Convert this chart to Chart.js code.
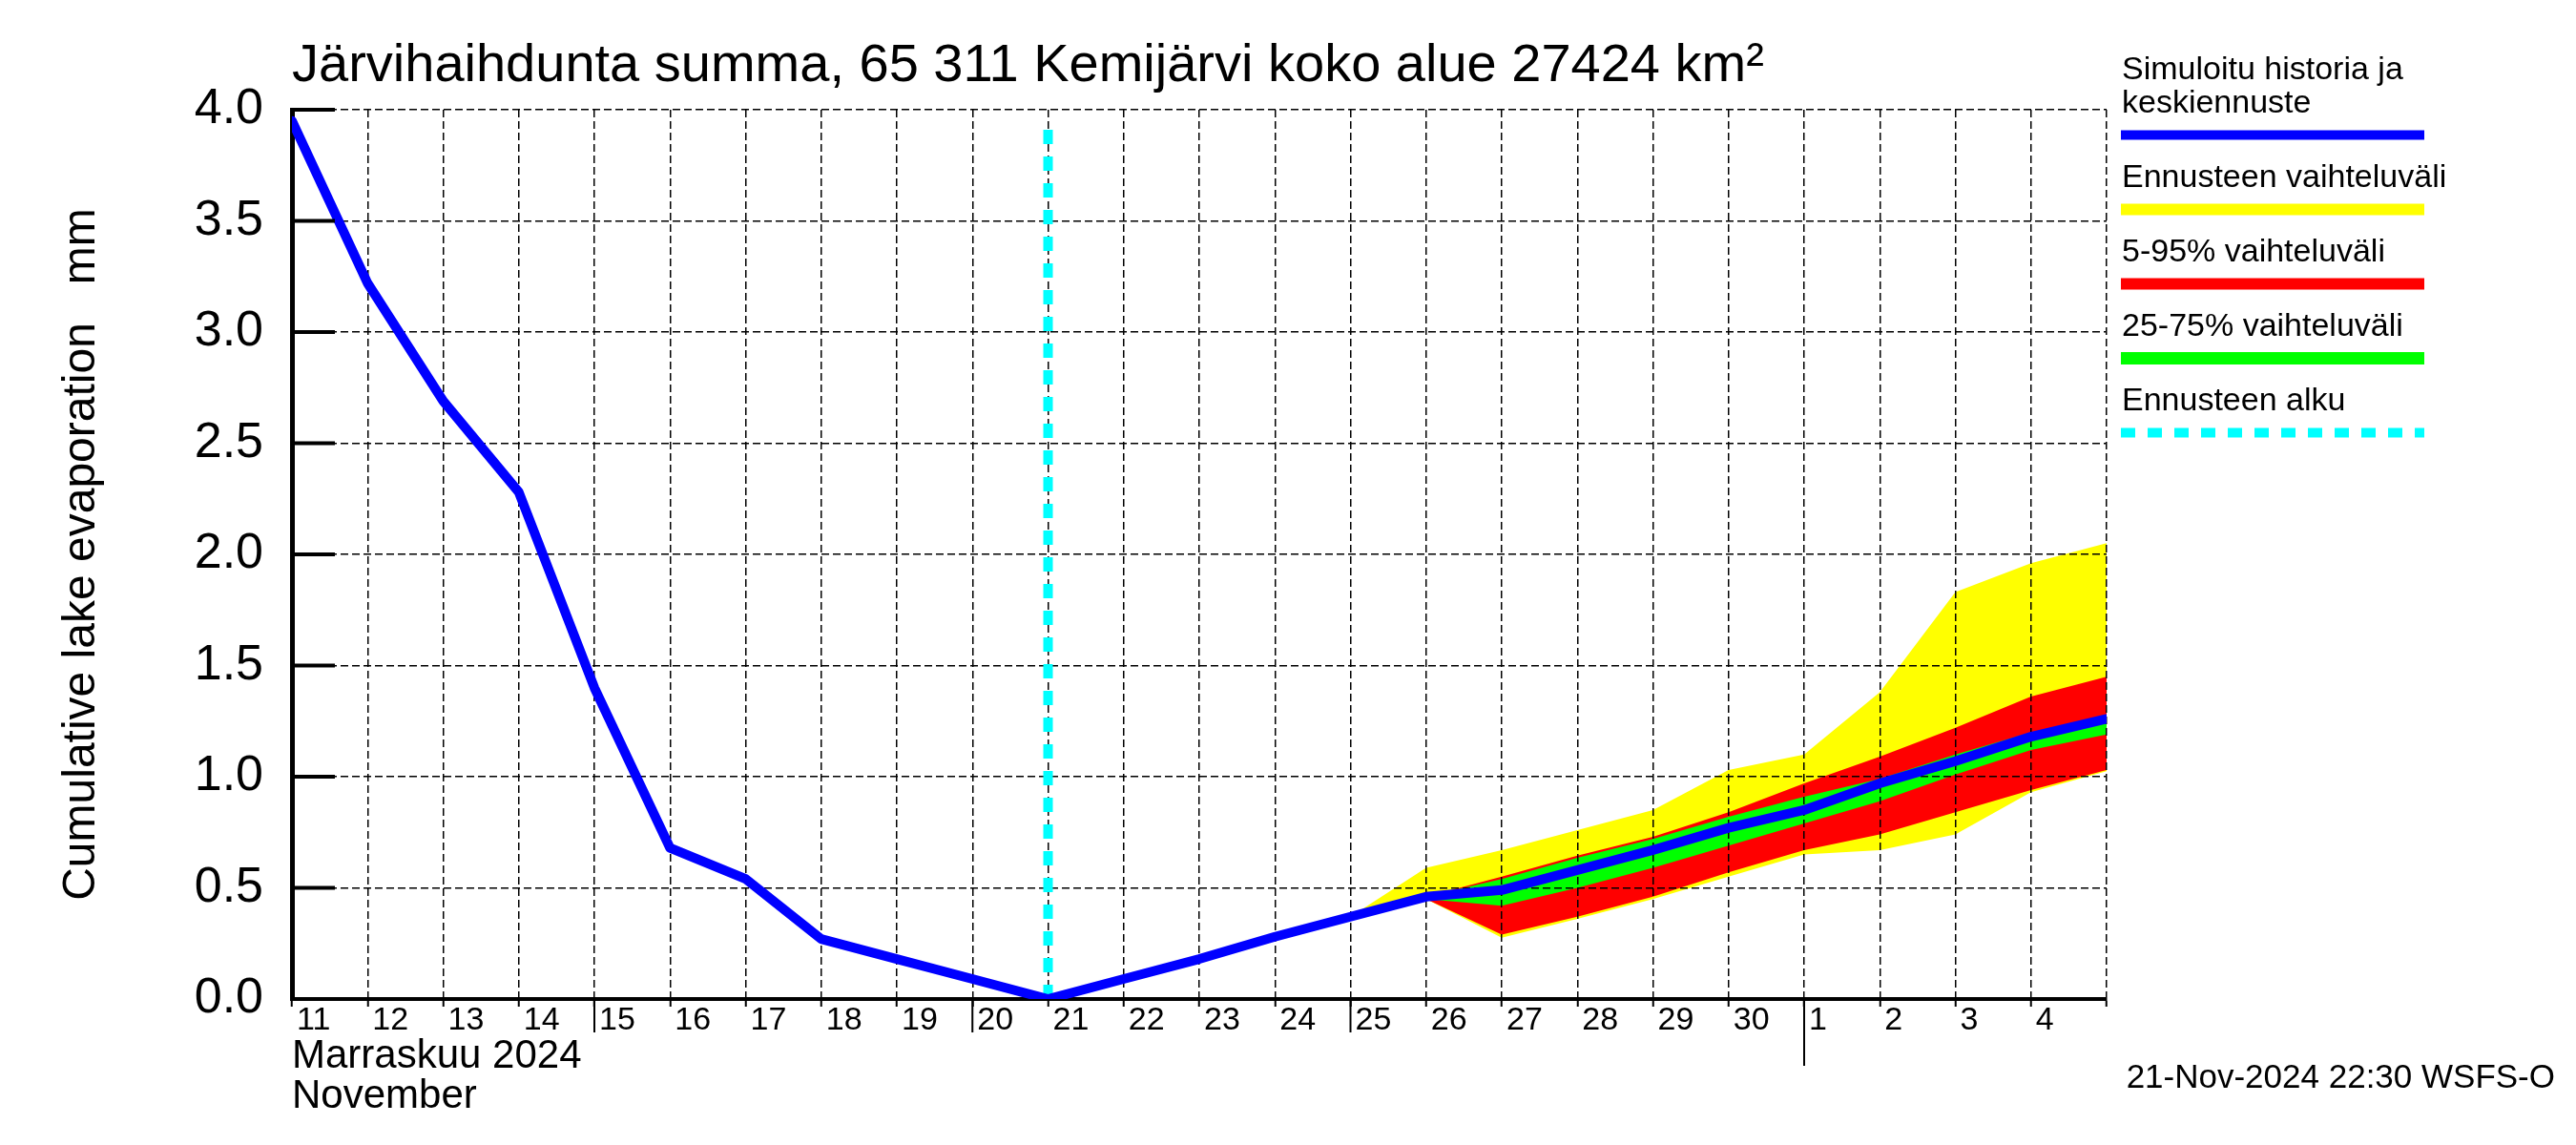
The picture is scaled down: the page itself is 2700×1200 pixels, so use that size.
<!DOCTYPE html>
<html>
<head>
<meta charset="utf-8">
<script src="https://cdn.jsdelivr.net/npm/chart.js@4/dist/chart.umd.min.js"></script>
<style>
html, body { margin: 0; padding: 0; background: #ffffff; }
canvas { display: block; }
</style>
</head>
<body>
<canvas id="c" width="2700" height="1200"></canvas>
<script>
// ---- texts ----
const titleText = 'Järvihaihdunta summa, 65 311 Kemijärvi koko alue 27424 km²';
const yAxisTitle = 'Cumulative lake evaporation   mm';
const monthTitle = ['Marraskuu 2024', 'November'];
const footerText = '21-Nov-2024 22:30 WSFS-O';

// ---- x categories: days from 11 Nov 2024 (00:00) to 5 Dec 2024 ----
const dayLabels = ['11','12','13','14','15','16','17','18','19','20','21','22','23','24','25','26','27','28','29','30','1','2','3','4',''];

// ---- simulated history + median forecast (mm) ----
const simulated = [3.95, 3.22, 2.69, 2.28, 1.40, 0.68, 0.54, 0.27, 0.18, 0.09, 0.00, 0.09, 0.18, 0.28, 0.37, 0.46, 0.49, 0.58, 0.67, 0.77, 0.85, 0.97, 1.07, 1.18, 1.26];

// ---- forecast bands, starting at day index bandStartDay (25 Nov) ----
const bandStartDay = 14;
const yellowHigh = [0.37, 0.59, 0.67, 0.76, 0.85, 1.03, 1.10, 1.38, 1.83, 1.96, 2.05];
const redHigh    = [0.37, 0.46, 0.55, 0.645, 0.73, 0.84, 0.97, 1.09, 1.22, 1.36, 1.45];
const greenHigh  = [0.37, 0.46, 0.54, 0.635, 0.72, 0.82, 0.91, 0.99, 1.10, 1.20, 1.27];
const greenLow   = [0.37, 0.45, 0.42, 0.50, 0.59, 0.69, 0.79, 0.89, 1.01, 1.12, 1.19];
const redLow     = [0.37, 0.45, 0.29, 0.37, 0.46, 0.57, 0.67, 0.74, 0.84, 0.94, 1.03];
const yellowLow  = [0.37, 0.45, 0.276, 0.36, 0.45, 0.55, 0.65, 0.67, 0.74, 0.93, 1.025];

// ---- forecast start marker ----
const forecastStartDay = 10;
const forecastLineRange = [0, 3.95];

// ---- legend ----
const legendLabels = [['Simuloitu historia ja', 'keskiennuste'], ['Ennusteen vaihteluväli'], ['5-95% vaihteluväli'], ['25-75% vaihteluväli'], ['Ennusteen alku']];
const legendColors = ['#0000ff', '#ffff00', '#ff0000', '#00ff00', '#00ffff'];

const FONT = "'Liberation Sans', Arial, Helvetica, sans-serif";

const series = arr => arr.map((v, i) => ({ x: i, y: v }));
const band = arr => arr.map((v, i) => ({ x: bandStartDay + i, y: v }));

const decor = {
  id: 'decor',
  afterDraw(chart) {
    const ctx = chart.ctx;
    const ca = chart.chartArea;
    const xs = chart.scales.x;
    const ys = chart.scales.y;
    ctx.save();
    // inward major ticks on y axis
    ctx.strokeStyle = '#000';
    ctx.lineWidth = 4;
    ys.ticks.forEach(t => {
      const py = ys.getPixelForValue(t.value);
      ctx.beginPath();
      ctx.moveTo(ca.left, py);
      ctx.lineTo(ca.left + 45, py);
      ctx.stroke();
    });
    // longer x ticks (mid-month marks and month start)
    ctx.lineWidth = 2;
    xs.ticks.forEach((t, i) => {
      const lab = dayLabels[i];
      let len = 0;
      if (i > 0 && lab === '1') len = 70;
      else if (i < 20 && (lab === '15' || lab === '20' || lab === '25')) len = 35;
      if (len) {
        const px = xs.getPixelForValue(t.value);
        ctx.beginPath();
        ctx.moveTo(px, ca.bottom);
        ctx.lineTo(px, ca.bottom + len);
        ctx.stroke();
      }
    });
    // title
    ctx.fillStyle = '#000';
    ctx.textBaseline = 'alphabetic';
    ctx.textAlign = 'left';
    ctx.font = '56px ' + FONT;
    ctx.fillText(titleText, ca.left, 85);
    // footer
    ctx.font = '35px ' + FONT;
    ctx.textAlign = 'right';
    ctx.fillText(footerText, 2678, 1140);
    // legend
    ctx.textAlign = 'left';
    ctx.font = '34px ' + FONT;
    const lx1 = 2223, lx2 = 2541;
    const widths = [10, 12, 12, 13, 10];
    let base = 83;
    legendLabels.forEach((lines, k) => {
      lines.forEach((ln, j) => {
        if (j > 0) base += 35;
        ctx.fillStyle = '#000';
        ctx.fillText(ln, 2224, base);
      });
      const sy = base + 23.5;
      ctx.strokeStyle = legendColors[k];
      ctx.lineWidth = widths[k];
      ctx.setLineDash(k === 4 ? [15, 13] : []);
      ctx.lineCap = 'butt';
      ctx.beginPath();
      ctx.moveTo(lx1, sy);
      ctx.lineTo(lx2, sy);
      ctx.stroke();
      ctx.setLineDash([]);
      base = sy + 54.5;
    });
    ctx.restore();
  }
};

new Chart(document.getElementById('c'), {
  type: 'line',
  data: {
    datasets: [
      { label: 'Simuloitu historia ja keskiennuste', data: series(simulated), borderColor: '#0000ff', borderWidth: 10, pointRadius: 0, fill: false, borderCapStyle: 'round', borderJoinStyle: 'round' },
      { label: '25-75% high', data: band(greenHigh), borderWidth: 0, pointRadius: 0, backgroundColor: '#00ff00', fill: 2 },
      { label: '25-75% low', data: band(greenLow), borderWidth: 0, pointRadius: 0, fill: false },
      { label: '5-95% high', data: band(redHigh), borderWidth: 0, pointRadius: 0, backgroundColor: '#ff0000', fill: 4 },
      { label: '5-95% low', data: band(redLow), borderWidth: 0, pointRadius: 0, fill: false },
      { label: 'range high', data: band(yellowHigh), borderWidth: 0, pointRadius: 0, backgroundColor: '#ffff00', fill: 6 },
      { label: 'range low', data: band(yellowLow), borderWidth: 0, pointRadius: 0, fill: false },
      { label: 'Ennusteen alku', data: forecastLineRange.map(v => ({ x: forecastStartDay, y: v })), borderColor: '#00ffff', borderWidth: 10, borderDash: [15, 13], pointRadius: 0, fill: false }
    ]
  },
  options: {
    responsive: false,
    animation: false,
    devicePixelRatio: 1,
    layout: { padding: { left: 0, right: 492, top: 115, bottom: 0 } },
    plugins: {
      legend: { display: false },
      tooltip: { enabled: false },
      title: { display: false },
      filler: { drawTime: 'beforeDraw' }
    },
    scales: {
      x: {
        type: 'linear',
        min: 0,
        max: dayLabels.length - 1,
        afterBuildTicks: s => { s.ticks = dayLabels.map((_, i) => ({ value: i })); },
        afterFit: s => { s.height = 153; },
        ticks: {
          autoSkip: false,
          maxRotation: 0,
          minRotation: 0,
          align: 'start',
          labelOffset: 5,
          padding: -2,
          color: '#000',
          font: { family: FONT, size: 34, lineHeight: 1 },
          callback: (v, i) => dayLabels[i]
        },
        grid: { color: '#000', lineWidth: 1.5, drawTicks: true, tickLength: 8, tickColor: '#000', tickWidth: 2 },
        border: { display: true, color: '#000', width: 4, dash: [8, 4] },
        title: { display: true, text: monthTitle, align: 'start', color: '#000', font: { family: FONT, size: 42, lineHeight: 1 }, padding: { top: 0, bottom: 30 } }
      },
      y: {
        min: 0,
        max: 4,
        afterFit: s => { s.width = 306; },
        ticks: {
          stepSize: 0.5,
          padding: 30,
          color: '#000',
          font: { family: FONT, size: 52, lineHeight: 1 },
          callback: v => Number(v).toFixed(1)
        },
        grid: { color: '#000', lineWidth: 1.5, drawTicks: false },
        border: { display: true, color: '#000', width: 5, dash: [8, 4] },
        title: { display: true, text: yAxisTitle, color: '#000', font: { family: FONT, size: 48, lineHeight: 1 }, padding: { top: 62, bottom: 0 } }
      }
    }
  },
  plugins: [decor]
});
</script>
</body>
</html>
